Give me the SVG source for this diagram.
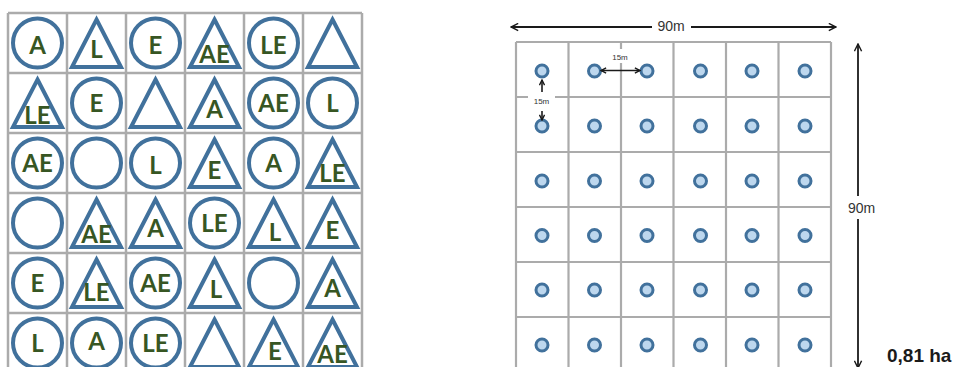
<svg xmlns="http://www.w3.org/2000/svg" width="955" height="367" viewBox="0 0 955 367">
<style>
.g{fill:none;stroke:#ababab;stroke-width:2.5}
.g2{fill:none;stroke:#ababab;stroke-width:2.2}
.c{fill:none;stroke:#41719c;stroke-width:4}
.t{fill:none;stroke:#41719c;stroke-width:4;stroke-linejoin:miter;stroke-miterlimit:10}
.l{font-family:Lato,"Liberation Sans",sans-serif;font-weight:700;font-size:24px;fill:#375623;text-anchor:middle}
.d{fill:#bdd7ee;stroke:#41719c;stroke-width:3}
.a{fill:none;stroke:#1a1a1a;stroke-width:1.8}
.s{fill:none;stroke:#1a1a1a;stroke-width:1.6}
.m{font-family:"Liberation Sans",Arial,sans-serif;font-size:14px;fill:#333;text-anchor:middle}
.ms{font-family:"Liberation Sans",Arial,sans-serif;font-size:8px;fill:#333;text-anchor:middle}
.h{font-family:"Liberation Sans",Arial,sans-serif;font-weight:700;font-size:19px;fill:#1a1a1a}
</style>
<defs>
<marker id="ah" viewBox="0 0 10 10" refX="9" refY="5" markerWidth="5" markerHeight="5" orient="auto-start-reverse" markerUnits="strokeWidth">
<path d="M1,1 L9,5 L1,9" fill="none" stroke="#1a1a1a" stroke-width="1.6"/>
</marker>
<marker id="ahs" viewBox="0 0 10 10" refX="9" refY="5" markerWidth="4" markerHeight="4" orient="auto-start-reverse" markerUnits="strokeWidth">
<path d="M1,1 L9,5 L1,9" fill="none" stroke="#1a1a1a" stroke-width="2.2"/>
</marker>
</defs>
<rect width="955" height="367" fill="#fff"/>

<g id="left-grid">
<path class="g" d="M8,13V373M67,13V373M126,13V373M185,13V373M244,13V373M303,13V373M362,13V373M8,13H362M8,73H362M8,133H362M8,193H362M8,253H362M8,313H362"/>
</g>

<g id="r1c1"><circle class="c" cx="37.5" cy="43" r="24.5"/><text class="l" x="37.5" y="54">A</text></g>
<g id="r1c2"><path class="t" d="M96.5,19.5L121,67L72,67Z"/><text class="l" x="96.5" y="58">L</text></g>
<g id="r1c3"><circle class="c" cx="155.5" cy="43" r="24.5"/><text class="l" x="155.5" y="54">E</text></g>
<g id="r1c4"><path class="t" d="M214.5,19.5L239,67L190,67Z"/><text class="l" x="214.5" y="63">AE</text></g>
<g id="r1c5"><circle class="c" cx="273.5" cy="43" r="24.5"/><text class="l" x="273.5" y="54">LE</text></g>
<g id="r1c6"><path class="t" d="M332.5,19.5L357,67L308,67Z"/></g>

<g id="r2c1"><path class="t" d="M37.5,79.5L62,127L13,127Z"/><text class="l" x="37.5" y="124">LE</text></g>
<g id="r2c2"><circle class="c" cx="96.5" cy="103" r="24.5"/><text class="l" x="96.5" y="112">E</text></g>
<g id="r2c3"><path class="t" d="M155.5,79.5L180,127L131,127Z"/></g>
<g id="r2c4"><path class="t" d="M214.5,79.5L239,127L190,127Z"/><text class="l" x="214.5" y="118">A</text></g>
<g id="r2c5"><circle class="c" cx="273.5" cy="103" r="24.5"/><text class="l" x="273.5" y="112">AE</text></g>
<g id="r2c6"><circle class="c" cx="332.5" cy="103" r="24.5"/><text class="l" x="332.5" y="112">L</text></g>

<g id="r3c1"><circle class="c" cx="37.5" cy="163" r="24.5"/><text class="l" x="37.5" y="172">AE</text></g>
<g id="r3c2"><circle class="c" cx="96.5" cy="163" r="24.5"/></g>
<g id="r3c3"><circle class="c" cx="155.5" cy="163" r="24.5"/><text class="l" x="155.5" y="174">L</text></g>
<g id="r3c4"><path class="t" d="M214.5,139.5L239,187L190,187Z"/><text class="l" x="214.5" y="179">E</text></g>
<g id="r3c5"><circle class="c" cx="273.5" cy="163" r="24.5"/><text class="l" x="273.5" y="172">A</text></g>
<g id="r3c6"><path class="t" d="M332.5,139.5L357,187L308,187Z"/><text class="l" x="332.5" y="182">LE</text></g>

<g id="r4c1"><circle class="c" cx="37.5" cy="223" r="24.5"/></g>
<g id="r4c2"><path class="t" d="M96.5,199.5L121,247L72,247Z"/><text class="l" x="96.5" y="243">AE</text></g>
<g id="r4c3"><path class="t" d="M155.5,199.5L180,247L131,247Z"/><text class="l" x="155.5" y="237">A</text></g>
<g id="r4c4"><circle class="c" cx="214.5" cy="223" r="24.5"/><text class="l" x="214.5" y="232">LE</text></g>
<g id="r4c5"><path class="t" d="M273.5,199.5L298,247L249,247Z"/><text class="l" x="275" y="241">L</text></g>
<g id="r4c6"><path class="t" d="M332.5,199.5L357,247L308,247Z"/><text class="l" x="332.5" y="239">E</text></g>

<g id="r5c1"><circle class="c" cx="37.5" cy="283" r="24.5"/><text class="l" x="37.5" y="292">E</text></g>
<g id="r5c2"><path class="t" d="M96.5,259.5L121,307L72,307Z"/><text class="l" x="96.5" y="301">LE</text></g>
<g id="r5c3"><circle class="c" cx="155.5" cy="283" r="24.5"/><text class="l" x="155.5" y="292">AE</text></g>
<g id="r5c4"><path class="t" d="M214.5,259.5L239,307L190,307Z"/><text class="l" x="216" y="298">L</text></g>
<g id="r5c5"><circle class="c" cx="273.5" cy="283" r="24.5"/></g>
<g id="r5c6"><path class="t" d="M332.5,259.5L357,307L308,307Z"/><text class="l" x="332.5" y="297">A</text></g>

<g id="r6c1"><circle class="c" cx="37.5" cy="343" r="24.5"/><text class="l" x="37.5" y="352">L</text></g>
<g id="r6c2"><circle class="c" cx="96.5" cy="343" r="24.5"/><text class="l" x="96.5" y="350">A</text></g>
<g id="r6c3"><circle class="c" cx="155.5" cy="343" r="24.5"/><text class="l" x="155.5" y="352">LE</text></g>
<g id="r6c4"><path class="t" d="M214.5,319.5L239,367L190,367Z"/></g>
<g id="r6c5"><path class="t" d="M273.5,319.5L298,367L249,367Z"/><text class="l" x="275" y="360">E</text></g>
<g id="r6c6"><path class="t" d="M332.5,319.5L357,367L308,367Z"/><text class="l" x="332.5" y="363">AE</text></g>

<g id="right-grid">
<path class="g2" d="M516,42V372M568.5,42V372M621,42V49M621,63V372M673.5,42V372M726,42V372M778.5,42V372M831,42V372M516,42H831M516,97H528M555,97H831M516,152H831M516,207H831M516,262H831M516,317H831"/>
</g>

<g id="trees">
<g id="dot-r1"><circle class="d" cx="542" cy="71" r="6"/><circle class="d" cx="594.5" cy="71" r="6"/><circle class="d" cx="647" cy="71" r="6"/><circle class="d" cx="700.5" cy="71" r="6"/><circle class="d" cx="752" cy="71" r="6"/><circle class="d" cx="805" cy="71" r="6"/></g>
<g id="dot-r2"><circle class="d" cx="542" cy="126" r="6"/><circle class="d" cx="594.5" cy="126" r="6"/><circle class="d" cx="647" cy="126" r="6"/><circle class="d" cx="700.5" cy="126" r="6"/><circle class="d" cx="752" cy="126" r="6"/><circle class="d" cx="805" cy="126" r="6"/></g>
<g id="dot-r3"><circle class="d" cx="542" cy="181" r="6"/><circle class="d" cx="594.5" cy="181" r="6"/><circle class="d" cx="647" cy="181" r="6"/><circle class="d" cx="700.5" cy="181" r="6"/><circle class="d" cx="752" cy="181" r="6"/><circle class="d" cx="805" cy="181" r="6"/></g>
<g id="dot-r4"><circle class="d" cx="542" cy="235.5" r="6"/><circle class="d" cx="594.5" cy="235.5" r="6"/><circle class="d" cx="647" cy="235.5" r="6"/><circle class="d" cx="700.5" cy="235.5" r="6"/><circle class="d" cx="752" cy="235.5" r="6"/><circle class="d" cx="805" cy="235.5" r="6"/></g>
<g id="dot-r5"><circle class="d" cx="542" cy="290" r="6"/><circle class="d" cx="594.5" cy="290" r="6"/><circle class="d" cx="647" cy="290" r="6"/><circle class="d" cx="700.5" cy="290" r="6"/><circle class="d" cx="752" cy="290" r="6"/><circle class="d" cx="805" cy="290" r="6"/></g>
<g id="dot-r6"><circle class="d" cx="542" cy="345" r="6"/><circle class="d" cx="594.5" cy="345" r="6"/><circle class="d" cx="647" cy="345" r="6"/><circle class="d" cx="700.5" cy="345" r="6"/><circle class="d" cx="752" cy="345" r="6"/><circle class="d" cx="805" cy="345" r="6"/></g>
</g>

<g id="connectors">
<line class="a" x1="652" y1="27" x2="511" y2="27" marker-end="url(#ah)"/>
<line class="a" x1="691" y1="27" x2="836" y2="27" marker-end="url(#ah)"/>
<line class="a" x1="858" y1="196" x2="858" y2="44" marker-end="url(#ah)"/>
<line class="a" x1="858" y1="219" x2="858" y2="368" marker-end="url(#ah)"/>
<line class="s" x1="601" y1="70.5" x2="640" y2="70.5" marker-start="url(#ahs)" marker-end="url(#ahs)"/>
<line class="s" x1="542" y1="92" x2="542" y2="80" marker-end="url(#ahs)"/>
<line class="s" x1="542" y1="111" x2="542" y2="120" marker-end="url(#ahs)"/>
</g>

<g id="labels">
<text class="m" x="671" y="31">90m</text>
<text class="m" x="861.5" y="213">90m</text>
<text class="ms" x="620" y="60">15m</text>
<text class="ms" x="541.5" y="103.5">15m</text>
<text class="h" x="887" y="362">0,81 ha</text>
</g>
</svg>
